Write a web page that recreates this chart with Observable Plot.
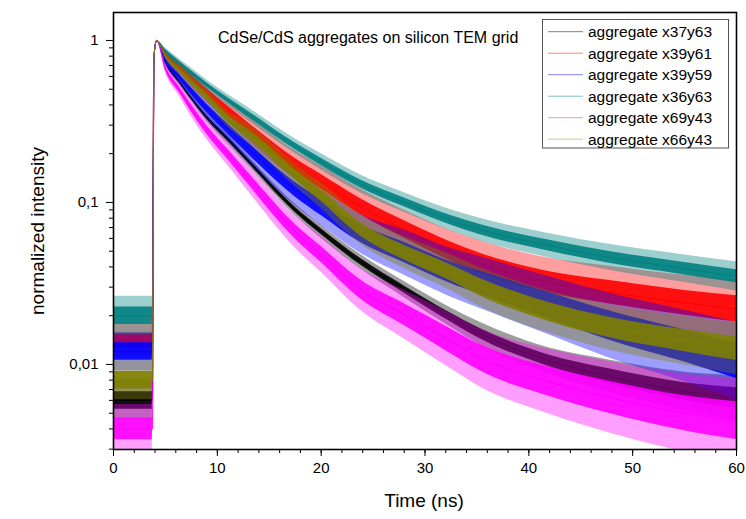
<!DOCTYPE html>
<html>
<head>
<meta charset="utf-8">
<script src="https://cdn.jsdelivr.net/npm/d3@7"></script>
<script src="https://cdn.jsdelivr.net/npm/@observablehq/plot@0.6"></script>
<style>
  html, body { margin: 0; padding: 0; background: #fff; }
  #chart { width: 746px; height: 519px; }
  svg { font-family: "Liberation Sans", Arial, sans-serif; }
</style>
</head>
<body>
<div id="chart"></div>
<script>
// ---- data ----
const title = "CdSe/CdS aggregates on silicon TEM grid";
const xLabel = "Time (ns)";
const yLabel = "normalized intensity";
const seriesNames = ["aggregate x37y63", "aggregate x39y61", "aggregate x39y59", "aggregate x36y63", "aggregate x69y43", "aggregate x66y43"];
const seriesColors = ["#000000", "#ff0000", "#0000ff", "#008080", "#ff00ff", "#808000"];
const legendColors = ["#808080", "#ff8080", "#8080ff", "#80c0c0", "#ff80ff", "#c8c890"];

// time knots (ns)
const times = [0, 3.75, 3.9, 4.15, 5, 6.4, 7.4, 9, 11.2, 13, 17.5, 20, 23.8, 28, 32.4, 35.3, 42, 47.6, 55, 60];

// normalized intensity (centre of the noisy trace)
const vX37y63 = [0.006, 0.006, 0.8, 1, 0.735, 0.55, 0.449, 0.334, 0.239, 0.18, 0.09, 0.066, 0.043, 0.029, 0.0196, 0.0155, 0.0105, 0.0085, 0.0068, 0.0062];
const vX39y61 = [0.014, 0.014, 0.8, 1, 0.82, 0.675, 0.588, 0.473, 0.357, 0.285, 0.17, 0.134, 0.094, 0.068, 0.05, 0.042, 0.032, 0.028, 0.024, 0.022];
const vX39y59 = [0.012, 0.012, 0.8, 1, 0.76, 0.59, 0.493, 0.379, 0.277, 0.215, 0.12, 0.093, 0.064, 0.049, 0.037, 0.032, 0.023, 0.0175, 0.013, 0.0105];
const vX36y63 = [0.02, 0.02, 0.8, 1, 0.86, 0.72, 0.637, 0.53, 0.42, 0.35, 0.222, 0.178, 0.13, 0.10, 0.078, 0.068, 0.054, 0.046, 0.039, 0.035];
const vX69y43 = [0.004, 0.004, 0.8, 1, 0.676, 0.49, 0.389, 0.28, 0.192, 0.14, 0.066, 0.0477, 0.029, 0.0203, 0.014, 0.011, 0.0078, 0.0063, 0.005, 0.0045];
const vX66y43 = [0.008, 0.008, 0.8, 1, 0.80, 0.652, 0.562, 0.449, 0.32, 0.265, 0.148, 0.11, 0.068, 0.049, 0.037, 0.030, 0.021, 0.017, 0.014, 0.0125];

// noise half-width of each trace (decades)
const nX37y63 = [0.12, 0.12, 0, 0, 0.015, 0.02, 0.02, 0.025, 0.03, 0.03, 0.035, 0.04, 0.045, 0.05, 0.06, 0.07, 0.08, 0.1, 0.12, 0.14];
const nX39y61 = [0.1, 0.1, 0, 0, 0.03, 0.04, 0.05, 0.06, 0.07, 0.08, 0.09, 0.1, 0.11, 0.12, 0.13, 0.14, 0.15, 0.16, 0.17, 0.18];
const nX39y59 = [0.12, 0.12, 0, 0, 0.03, 0.04, 0.05, 0.06, 0.07, 0.08, 0.1, 0.11, 0.12, 0.14, 0.15, 0.16, 0.18, 0.2, 0.22, 0.24];
const nX36y63 = [0.12, 0.12, 0, 0, 0.02, 0.025, 0.03, 0.03, 0.035, 0.04, 0.045, 0.05, 0.055, 0.06, 0.065, 0.07, 0.075, 0.08, 0.085, 0.09];
const nX69y43 = [0.15, 0.15, 0, 0, 0.03, 0.04, 0.05, 0.06, 0.07, 0.08, 0.1, 0.11, 0.13, 0.15, 0.17, 0.18, 0.2, 0.22, 0.24, 0.26];
const nX66y43 = [0.12, 0.12, 0, 0, 0.02, 0.03, 0.035, 0.04, 0.05, 0.06, 0.07, 0.08, 0.09, 0.1, 0.11, 0.12, 0.13, 0.14, 0.15, 0.16];

// tick labels
const xMajorTicks = [0, 10, 20, 30, 40, 50, 60];
const xMinorTicks = [0, 2, 4, 6, 8, 10, 12, 14, 16, 18, 20, 22, 24, 26, 28, 30, 32, 34, 36, 38, 40, 42, 44, 46, 48, 50, 52, 54, 56, 58, 60];
const yMajorTicks = [0.01, 0.1, 1];
const yMajorLabels = ["0,01", "0,1", "1"];
const yMinorTicks = [0.003, 0.004, 0.005, 0.006, 0.007, 0.008, 0.009, 0.02, 0.03, 0.04, 0.05, 0.06, 0.07, 0.08, 0.09, 0.2, 0.3, 0.4, 0.5, 0.6, 0.7, 0.8, 0.9];

// ---- build tables ----
const values = [vX37y63, vX39y61, vX39y59, vX36y63, vX69y43, vX66y43];
const noise = [nX37y63, nX39y61, nX39y59, nX36y63, nX69y43, nX66y43];
const series = seriesNames.map((name, s) => times.map((t, i) => ({
  name, t, v: values[s][i],
  lo: values[s][i] * Math.pow(10, -noise[s][i]),
  hi: values[s][i] * Math.pow(10, noise[s][i]),
  lo2: values[s][i] * Math.pow(10, -0.45 * noise[s][i]),
  hi2: values[s][i] * Math.pow(10, 0.45 * noise[s][i])
})));

const marks = [];
series.forEach((rows, s) => {
  const c = seriesColors[s];
  marks.push(Plot.areaY(rows, {x: "t", y1: "lo", y2: "hi", fill: c, fillOpacity: 0.38, curve: "monotone-x", clip: true}));
  marks.push(Plot.areaY(rows, {x: "t", y1: "lo2", y2: "hi2", fill: c, fillOpacity: 0.9, curve: "monotone-x", clip: true}));
  marks.push(Plot.line(rows, {x: "t", y: "v", stroke: c, strokeWidth: 1, curve: "monotone-x", clip: true}));
});

const fmtY = d => yMajorLabels[yMajorTicks.indexOf(d)];

const chart = Plot.plot({
  width: 746,
  height: 519,
  marginLeft: 113,
  marginRight: 10,
  marginTop: 12,
  marginBottom: 70,
  style: {background: "#fff", color: "#000", fontFamily: "'Liberation Sans', Arial, sans-serif"},
  x: {domain: [0, 60]},
  y: {type: "log", domain: [0.002985, 1.488]},
  marks: [
    ...marks,
    Plot.axisX({ticks: xMinorTicks, tickSize: 4, tickFormat: () => "", label: null}),
    Plot.axisX({ticks: xMajorTicks, tickSize: 7, tickPadding: 6, fontSize: 15, label: null}),
    Plot.axisY({ticks: yMinorTicks, tickSize: 4, tickFormat: () => "", label: null}),
    Plot.axisY({ticks: yMajorTicks, tickSize: 7, tickPadding: 8, fontSize: 15, tickFormat: fmtY, label: null}),
    Plot.frame({stroke: "#000", strokeWidth: 1.6})
  ]
});
document.getElementById("chart").appendChild(chart);

// ---- text and legend ----
const svg = d3.select(chart);
const font = "'Liberation Sans', Arial, sans-serif";
svg.append("text").attr("x", 218).attr("y", 37).attr("dy", "0.35em").attr("text-anchor", "start")
  .attr("font-size", 16).attr("font-family", font).attr("fill", "#000").text(title);
svg.append("text").attr("x", 424).attr("y", 500).attr("dy", "0.35em").attr("text-anchor", "middle")
  .attr("font-size", 19).attr("font-family", font).attr("fill", "#000").text(xLabel);
svg.append("text").attr("transform", "translate(37,231) rotate(-90)").attr("dy", "0.35em").attr("text-anchor", "middle")
  .attr("font-size", 19).attr("font-family", font).attr("fill", "#000").text(yLabel);

const lg = svg.append("g");
lg.append("rect").attr("x", 542.5).attr("y", 19.5).attr("width", 186).attr("height", 128.5)
  .attr("fill", "#fff").attr("stroke", "#555").attr("stroke-width", 1);
seriesNames.forEach((name, i) => {
  const y = 31.7 + i * 21.5;
  lg.append("line").attr("x1", 548).attr("x2", 583).attr("y1", y).attr("y2", y)
    .attr("stroke", legendColors[i]).attr("stroke-width", 1);
  lg.append("text").attr("x", 588).attr("y", y).attr("dy", "0.35em").attr("text-anchor", "start")
    .attr("font-size", 15.5).attr("font-family", font).attr("fill", "#000").text(name);
});
</script>
</body>
</html>
